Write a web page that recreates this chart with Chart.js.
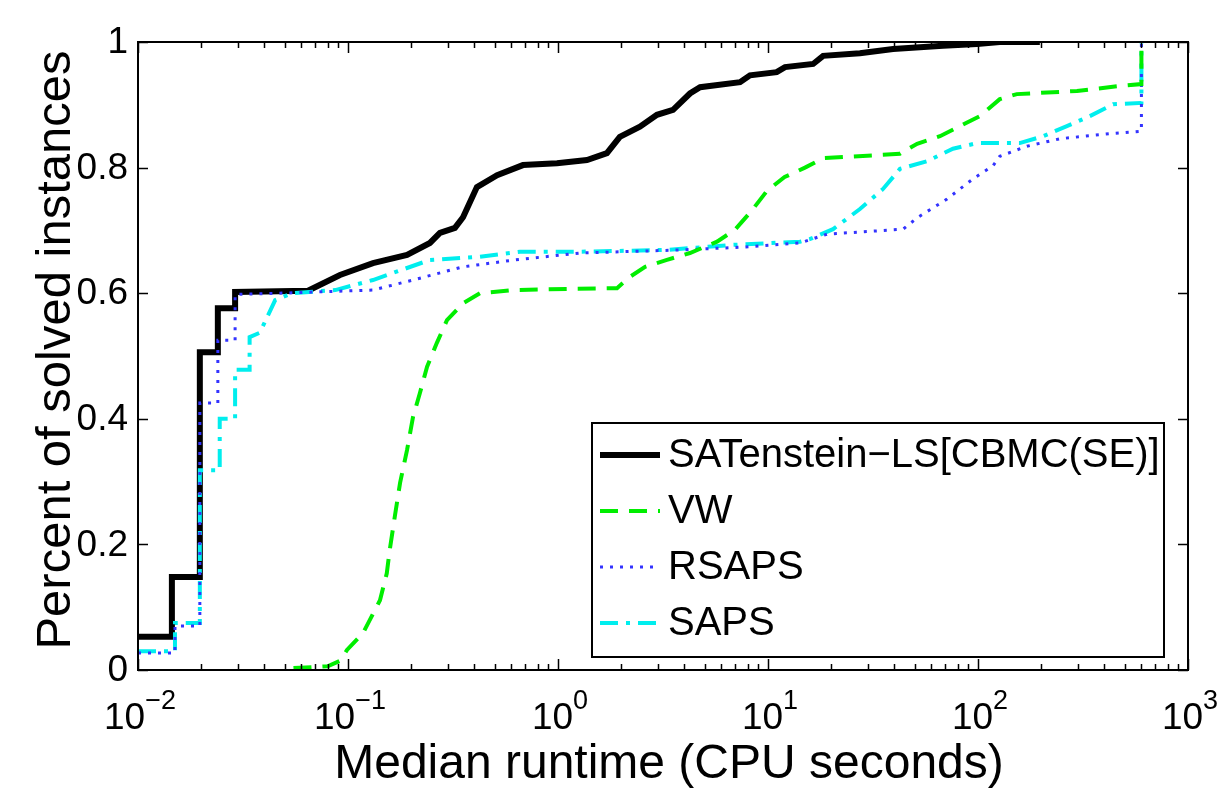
<!DOCTYPE html>
<html>
<head>
<meta charset="utf-8">
<script src="https://cdn.jsdelivr.net/npm/chart.js@4.4.1/dist/chart.umd.min.js"></script>
<style>
  html, body { margin: 0; padding: 0; background: #fff; }
  #wrap { width: 1221px; height: 792px; }
</style>
</head>
<body>
<div id="wrap"><canvas id="chart" width="1221" height="792"></canvas></div>
<script>
// axis ticks
const runtimeTicks = [0.01, 0.1, 1, 10, 100, 1000];
const runtimeExponents = ["\u22122", "\u22121", "0", "1", "2", "3"];
const solvedTicks = [0, 0.2, 0.4, 0.6, 0.8, 1];
const solvedLabels = ["0", "0.2", "0.4", "0.6", "0.8", "1"];

// SATenstein-LS[CBMC(SE)]
const satTime = [0.01, 0.0145, 0.0145, 0.0197, 0.0197, 0.024, 0.024, 0.029, 0.029, 0.0645,
  0.0916, 0.1315, 0.191, 0.2455, 0.274, 0.323, 0.353, 0.411, 0.513, 0.681, 0.989, 1.374,
  1.71, 1.97, 2.455, 2.96, 3.53, 4.25, 4.75, 7.36, 8.21, 11.0, 12.05, 16.4, 18.3, 27.4,
  39.4, 68.1, 98.9, 127, 197];
const satSolved = [0.053, 0.053, 0.148, 0.148, 0.506, 0.506, 0.576, 0.576, 0.602, 0.604,
  0.629, 0.648, 0.661, 0.68, 0.696, 0.704, 0.721, 0.769, 0.788, 0.804, 0.807, 0.812,
  0.823, 0.849, 0.865, 0.884, 0.892, 0.918, 0.928, 0.936, 0.947, 0.952, 0.960, 0.965, 0.978, 0.982,
  0.989, 0.994, 0.997, 1.0, 1.0];

// VW
const vwTime = [0.055, 0.08, 0.092, 0.0989, 0.118, 0.142, 0.153, 0.158, 0.167, 0.177, 0.191,
  0.204, 0.220, 0.238, 0.265, 0.296, 0.353, 0.425, 0.611, 1.14, 1.91, 2.20, 2.60, 3.30,
  4.25, 5.72, 6.96, 8.39, 9.89, 12.0, 15.0, 18.3, 42.5, 51.3, 65.9, 82.1, 102, 127, 153,
  296, 474, 600, 600];
const vwSolved = [0.003, 0.006, 0.015, 0.032, 0.059, 0.111, 0.154, 0.191, 0.244, 0.298, 0.350,
  0.403, 0.441, 0.483, 0.521, 0.557, 0.584, 0.600, 0.605, 0.607, 0.608, 0.626, 0.642, 0.653,
  0.664, 0.682, 0.701, 0.732, 0.763, 0.785, 0.800, 0.815, 0.822, 0.838, 0.850, 0.866, 0.882, 0.909, 0.917,
  0.922, 0.930, 0.933, 1.0];

// RSAPS
const rsapsTime = [0.01, 0.015, 0.015, 0.0197, 0.0197, 0.024, 0.024, 0.029, 0.029, 0.0474,
  0.1315, 0.204, 0.353, 0.624, 1.27, 3.94, 8.21, 14.2, 19.1, 44.0, 51.3, 71.2, 94.6, 118,
  127, 171, 246, 425, 600, 600];
const rsapsSolved = [0.027, 0.027, 0.07, 0.07, 0.425, 0.425, 0.525, 0.525, 0.598, 0.600,
  0.605, 0.621, 0.642, 0.653, 0.664, 0.669, 0.674, 0.68, 0.694, 0.702, 0.72, 0.75, 0.782, 0.803,
  0.818, 0.834, 0.846, 0.854, 0.858, 1.0];

// SAPS
const sapsTime = [0.01, 0.015, 0.015, 0.0197, 0.0197, 0.0245, 0.0245, 0.029, 0.029, 0.034,
  0.034, 0.038, 0.045, 0.054, 0.087, 0.1315, 0.2455, 0.425, 0.659, 1.27, 3.30, 6.81, 14.2,
  15.8, 20.4, 27.4, 35.3, 42.5, 57.1, 76.0, 98.9, 158, 204, 265, 341, 440, 600, 600];
const sapsSolved = [0.03, 0.03, 0.075, 0.075, 0.318, 0.318, 0.40, 0.40, 0.478, 0.478,
  0.53, 0.537, 0.589, 0.600, 0.605, 0.621, 0.653, 0.658, 0.666, 0.666, 0.669, 0.677, 0.682,
  0.686, 0.702, 0.734, 0.766, 0.798, 0.81, 0.83, 0.839, 0.839, 0.85, 0.866, 0.882, 0.901, 0.903, 1.0];

const FONT = "'Liberation Sans', Arial, Helvetica, sans-serif";

function pts(xs, ys) {
  return xs.map((x, i) => ({ x: x, y: ys[i] }));
}

// frame, inward ticks, labels and legend in matlab style
const matlabAxes = {
  id: "matlabAxes",
  afterDraw(chart) {
    const ctx = chart.ctx;
    const a = chart.chartArea;
    const xs = chart.scales.x;
    const ys = chart.scales.y;
    ctx.save();

    // box
    ctx.strokeStyle = "#000";
    ctx.lineWidth = 2;
    ctx.strokeRect(a.left, a.top, a.right - a.left, a.bottom - a.top);

    // x ticks (major + minor), bottom and top
    ctx.lineWidth = 1.5;
    ctx.beginPath();
    for (let d = 0; d < runtimeTicks.length; d++) {
      for (let m = 1; m <= 9; m++) {
        if (d === runtimeTicks.length - 1 && m > 1) break;
        const px = Math.round(xs.getPixelForValue(runtimeTicks[d] * m)) + 0.5;
        const len = m === 1 ? 11 : 6;
        ctx.moveTo(px, a.bottom);
        ctx.lineTo(px, a.bottom - len);
        ctx.moveTo(px, a.top);
        ctx.lineTo(px, a.top + len);
      }
    }
    // y ticks left and right
    solvedTicks.forEach((v) => {
      const py = Math.round(ys.getPixelForValue(v)) + 0.5;
      ctx.moveTo(a.left, py);
      ctx.lineTo(a.left + 10, py);
      ctx.moveTo(a.right, py);
      ctx.lineTo(a.right - 10, py);
    });
    ctx.stroke();

    // y tick labels
    ctx.fillStyle = "#000";
    ctx.font = "37px " + FONT;
    ctx.textAlign = "right";
    ctx.textBaseline = "middle";
    solvedTicks.forEach((v, i) => {
      ctx.fillText(solvedLabels[i], a.left - 10, ys.getPixelForValue(v) + 1);
    });

    // x tick labels: 10 with superscript exponent
    ctx.textBaseline = "alphabetic";
    ctx.textAlign = "left";
    runtimeTicks.forEach((v, i) => {
      const px = xs.getPixelForValue(v);
      ctx.font = "37px " + FONT;
      const wb = ctx.measureText("10").width;
      ctx.font = "27px " + FONT;
      const we = ctx.measureText(runtimeExponents[i]).width;
      const x0 = px - (wb + we) / 2 + 2;
      ctx.font = "37px " + FONT;
      ctx.fillText("10", x0, 729);
      ctx.font = "27px " + FONT;
      ctx.fillText(runtimeExponents[i], x0 + wb, 709);
    });

    // axis titles
    ctx.font = "48px " + FONT;
    ctx.textAlign = "center";
    ctx.fillText("Median runtime (CPU seconds)", (a.left + a.right) / 2 + 6, 778);
    ctx.save();
    ctx.translate(70, (a.top + a.bottom) / 2 - 6);
    ctx.rotate(-Math.PI / 2);
    ctx.font = "49px " + FONT;
    ctx.fillText("Percent of solved instances", 0, 0);
    ctx.restore();

    // legend
    const lx = 592, ly = 423, lw = 572, lh = 234;
    ctx.fillStyle = "#fff";
    ctx.fillRect(lx, ly, lw, lh);
    ctx.lineWidth = 2;
    ctx.strokeStyle = "#000";
    ctx.strokeRect(lx, ly, lw, lh);
    chart.data.datasets.forEach((ds, i) => {
      const cy = ly + 32 + i * 56;
      ctx.save();
      ctx.strokeStyle = ds.borderColor;
      ctx.lineWidth = ds.borderWidth;
      ctx.setLineDash(ds.borderDash || []);
      ctx.beginPath();
      ctx.moveTo(lx + 8, cy);
      ctx.lineTo(lx + 68, cy);
      ctx.stroke();
      ctx.restore();
      ctx.fillStyle = "#000";
      ctx.font = "40px " + FONT;
      ctx.textAlign = "left";
      ctx.textBaseline = "middle";
      ctx.fillText(ds.label, lx + 76, cy + 1);
    });

    ctx.restore();
  },
};

new Chart(document.getElementById("chart"), {
  type: "line",
  data: {
    datasets: [
      {
        label: "SATenstein\u2212LS[CBMC(SE)]",
        data: pts(satTime, satSolved),
        borderColor: "#000000",
        borderWidth: 6,
        order: 10,
      },
      {
        label: "VW",
        data: pts(vwTime, vwSolved),
        borderColor: "#00ee00",
        borderWidth: 4,
        borderDash: [18, 11],
      },
      {
        label: "RSAPS",
        data: pts(rsapsTime, rsapsSolved),
        borderColor: "#3333ff",
        borderWidth: 3,
        borderDash: [3, 7],
      },
      {
        label: "SAPS",
        data: pts(sapsTime, sapsSolved),
        borderColor: "#00eeee",
        borderWidth: 4,
        borderDash: [18, 8, 4, 8],
      },
    ],
  },
  options: {
    responsive: false,
    animation: false,
    layout: { padding: { left: 138, right: 33, top: 42, bottom: 122 } },
    elements: {
      point: { radius: 0 },
      line: { tension: 0, fill: false },
    },
    plugins: {
      legend: { display: false },
      tooltip: { enabled: false },
    },
    scales: {
      x: { type: "logarithmic", min: 0.01, max: 1000, display: false },
      y: { type: "linear", min: 0, max: 1, display: false },
    },
  },
  plugins: [matlabAxes],
});
</script>
</body>
</html>
